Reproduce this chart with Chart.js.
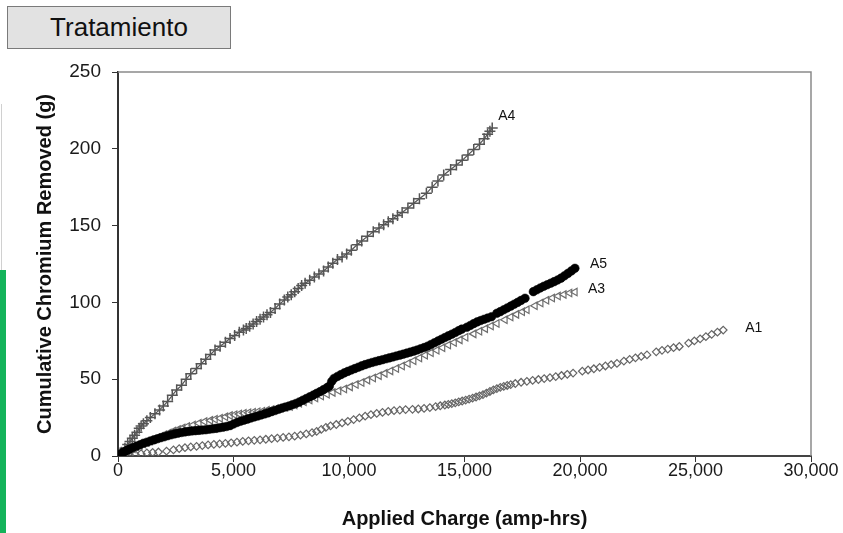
<!DOCTYPE html>
<html>
<head>
<meta charset="utf-8">
<script src="https://cdn.jsdelivr.net/npm/chart.js@4.4.1/dist/chart.umd.min.js"></script>
<style>
  html, body { margin: 0; padding: 0; background: #ffffff; }
  #wrap { position: relative; width: 843px; height: 533px; overflow: hidden; background: #fff; }
  #chart { position: absolute; left: 0; top: 0; }
  #tag {
    position: absolute; left: 7px; top: 6px; width: 222px; height: 41px;
    background: #e2e2e2; border: 1px solid #7a7a7a;
    font-family: "Liberation Sans", Arial, sans-serif; font-size: 26px; color: #111;
    display: flex; align-items: center; justify-content: center;
  }
  #green { position: absolute; left: 0; top: 270px; width: 6px; height: 263px; background: #14b35a; }
  #gline { position: absolute; left: 1px; top: 104px; width: 1px; height: 166px; background: #d0d0d0; }
</style>
</head>
<body>
<div id="wrap">
  <canvas id="chart" width="843" height="533"></canvas>
  <div id="tag">Tratamiento</div>
  <div id="gline"></div>
  <div id="green"></div>
</div>
<script>
// ---------- DATA ----------
const seriesNames = ['A5', 'A4', 'A3', 'A1'];

const xTickLabels = ['0', '5,000', '10,000', '15,000', '20,000', '25,000', '30,000'];
const yTickLabels = ['0', '50', '100', '150', '200', '250'];

const A4x = [0,150,300,420,520,620,720,820,920,1000,1100,1250,1400,1600,1800,1962,2150,2350,2540,2750,2950,3150,3400,3600,3800,4000,4200,4420,4650,4850,5050,5250,5430,5550,5700,5850,6000,6150,6300,6450,6600,6800,7000,7200,7350,7500,7650,7800,7950,8100,8300,8500,8700,8900,9100,9300,9500,9700,9900,10100,10350,10550,10800,11050,11300,11500,11700,11900,12100,12300,12550,12800,13050,13350,13600,13850,14100,14400,14650,14900,15150,15400,15650,15850,16000,16100,16200];
const A4y = [0,2.5,5,7.5,9.5,11.5,13.5,15.5,18,19.5,21,23,25,27.5,30,32.5,35.5,39.5,43,46,50,53.5,57,60,63,66,69,71.5,74,76.5,78.5,80.5,82,83,84.5,86,87.5,89,90.5,92,93.5,96,99,101.5,103.5,105,107,109,111,112.5,114.5,116.5,118.5,120.5,123,125.5,128,129.5,131.5,134,137.5,140,143,146,148.5,150.5,152.5,154.5,156.5,158.5,161.5,164.5,167.5,171,175,179,183,186.5,189.5,192.5,196,199.5,203,206.5,209.5,211.5,213.5];

const A5x = [0,100,200,300,400,500,650,800,950,1100,1250,1400,1550,1700,1850,2000,2150,2300,2450,2600,2750,2900,3050,3200,3350,3500,3650,3800,3950,4100,4250,4400,4550,4700,4850,5000,5150,5300,5450,5600,5750,5900,6050,6200,6350,6500,6650,6800,6950,7100,7250,7400,7550,7700,7850,8000,8150,8300,8450,8600,8750,8900,9050,9150,9250,9350,9500,9650,9800,9950,10100,10250,10400,10550,10700,10850,11000,11150,11300,11450,11600,11750,11900,12050,12200,12350,12500,12650,12800,12950,13100,13250,13400,13550,13700,13850,14000,14150,14300,14450,14600,14750,14880,15100,15250,15400,15550,15700,15850,16000,16170,16400,16550,16700,16850,17000,17150,17300,17450,17620,17980,18130,18280,18430,18580,18730,18880,19030,19180,19330,19480,19630,19780];
const A5y = [0,1.2,2.2,3,3.8,4.5,5.5,6.4,7.3,8.3,9,9.8,10.5,11.2,11.9,12.5,13.2,13.8,14.4,14.9,15.3,15.7,16,16.3,16.5,16.7,16.9,17.1,17.4,17.7,18,18.4,18.8,19.2,19.8,20.8,21.8,22.6,23.3,24,24.7,25.4,26,26.7,27.4,28.1,28.9,29.6,30.4,31.2,31.9,32.6,33.4,34.2,35.2,36.3,37.4,38.5,39.6,40.8,41.9,43.2,44.5,45.5,48.5,50.5,51.8,53,54.1,55.1,56,56.9,57.8,58.7,59.5,60.2,60.9,61.5,62.1,62.7,63.3,63.9,64.5,65.1,65.7,66.3,67,67.6,68.3,69,69.8,70.6,71.5,72.6,73.7,74.9,76,77.1,78.2,79.3,80.4,81.6,82.6,83.8,85,86.2,87.3,88.2,89,89.8,90.7,92.9,94,95.2,96.4,97.6,98.8,100,101.3,102.7,107,108.2,109.4,110.5,111.5,112.5,113.5,114.6,115.8,117.3,118.9,120.5,122.2];

const A3x = [0,150,300,420,520,650,800,950,1100,1250,1400,1550,1700,1850,2000,2200,2400,2600,2800,3000,3250,3500,3750,4000,4200,4420,4650,4850,5050,5250,5450,5650,5850,6050,6250,6450,6650,6850,7050,7250,7450,7650,7850,8050,8300,8550,8800,9050,9300,9550,9800,10050,10300,10550,10800,11050,11300,11550,11800,12050,12300,12550,12800,13050,13300,13550,13800,14050,14300,14550,14800,15050,15400,15650,15900,16150,16400,16750,17000,17250,17500,17700,18050,18300,18550,18800,19050,19300,19550,19780];
const A3y = [0,0.8,2,3,3.9,4.8,5.8,6.8,7.8,8.8,9.8,10.8,11.8,12.8,13.8,15,16.2,17.3,18.3,19.2,20.2,21.3,22.4,23.2,23.9,24.6,25.5,26.3,26.9,27.4,27.8,28.2,28.5,28.8,29.2,29.7,30.3,30.9,31.4,31.8,32.2,33.2,34.3,35.3,36.5,37.8,39,40.2,41.4,42.5,43.6,45,46.5,47.9,49.4,50.8,52.3,53.8,55.4,57,58.6,60.2,62,63.8,65.6,67.2,68.8,70.5,72.2,73.9,75.6,77.3,79.5,81.2,82.9,84.6,86.3,88.7,90.5,92.2,93.9,95.2,97.8,99.6,101.4,102.9,104.1,105.2,106.1,106.8];

const A1x = [0,250,500,750,1000,1250,1500,1750,2100,2400,2650,2900,3150,3400,3650,3900,4150,4400,4650,4900,5150,5400,5650,5900,6150,6400,6650,6900,7150,7400,7650,7900,8150,8400,8600,8800,9000,9200,9450,9700,9950,10200,10450,10700,10950,11200,11450,11700,11950,12200,12450,12750,13000,13250,13500,13750,13950,14150,14300,14450,14600,14750,14900,15050,15200,15350,15500,15650,15800,15950,16100,16250,16400,16550,16700,16850,17000,17200,17450,17700,17950,18200,18450,18700,18950,19200,19450,19700,20100,20350,20600,20850,21100,21350,21600,21900,22150,22400,22650,22900,23300,23550,23800,24050,24300,24700,24950,25200,25450,25700,25950,26200];
const A1y = [0,0.3,0.6,1,1.5,2,2.3,2.6,3.2,4,4.8,5.4,5.9,6.3,6.8,7.2,7.6,7.9,8.2,8.6,9,9.5,9.9,10.2,10.5,10.9,11.3,11.7,12.1,12.5,12.9,13.6,14.4,15.2,16,17.3,18.6,19.6,20.5,21.5,22.6,23.7,24.8,25.9,26.9,27.7,28.4,29,29.5,29.9,30.2,30.4,30.6,31,31.5,32.1,32.7,33.2,33.6,34.1,34.6,35.2,35.8,36.4,37,37.7,38.4,39.2,40,41,42,43,43.9,44.7,45.3,45.9,46.5,47.2,48,48.6,49.2,49.8,50.4,51,51.7,52.4,53.2,54,55.2,56,56.8,57.7,58.6,59.5,60.3,61.8,62.9,63.9,64.8,65.8,67.8,68.8,69.6,70.5,71.3,73.5,74.9,76.3,77.7,79.2,80.6,82];

// ---------- BUILD ----------
function pts(xs, ys) { return xs.map((x, i) => ({ x: x, y: ys[i] })); }

const FONT = '"Liberation Sans", Arial, Helvetica, sans-serif';

// label offsets (pixels) relative to each series' last point
const labelOffsets = { A5: [15, -4], A4: [6, -12], A3: [13, -3], A1: [22, -2] };

const endLabels = {
  id: 'endLabels',
  afterDatasetsDraw(chart) {
    const ctx = chart.ctx;
    ctx.save();
    ctx.font = '14px ' + FONT;
    ctx.fillStyle = '#111';
    ctx.textAlign = 'left';
    ctx.textBaseline = 'middle';
    chart.data.datasets.forEach((ds, i) => {
      const meta = chart.getDatasetMeta(i);
      const last = meta.data[meta.data.length - 1];
      const off = labelOffsets[ds.label];
      ctx.fillText(ds.label, last.x + off[0], last.y + off[1]);
    });
    ctx.restore();
  }
};

const frame = {
  id: 'frame',
  beforeDatasetsDraw(chart) {
    const a = chart.chartArea, ctx = chart.ctx;
    ctx.save();
    ctx.strokeStyle = '#8a8a8a';
    ctx.lineWidth = 1.5;
    ctx.beginPath();
    ctx.moveTo(a.left, a.top);
    ctx.lineTo(a.right, a.top);
    ctx.lineTo(a.right, a.bottom);
    ctx.stroke();
    ctx.restore();
  }
};

new Chart(document.getElementById('chart'), {
  type: 'scatter',
  data: {
    datasets: [
      { label: seriesNames[0], data: pts(A5x, A5y), pointStyle: 'circle', pointRadius: 4.3,
        backgroundColor: '#000', borderColor: '#000', borderWidth: 0.5, showLine: false },
      { label: seriesNames[1], data: pts(A4x, A4y), pointStyle: 'cross', pointRadius: 5.5,
        borderColor: '#555555', backgroundColor: '#555555', pointBorderWidth: 1.5,
        showLine: true, borderWidth: 1.2 },
      { label: seriesNames[2], data: pts(A3x, A3y), pointStyle: 'triangle', pointRotation: 270, pointRadius: 4.3,
        backgroundColor: 'rgba(255,255,255,0)', borderColor: '#6e6e6e', borderWidth: 1.2, showLine: false },
      { label: seriesNames[3], data: pts(A1x, A1y), pointStyle: 'rectRot', pointRadius: 3.8,
        backgroundColor: 'rgba(255,255,255,0)', borderColor: '#666666', borderWidth: 1.2, showLine: false }
    ]
  },
  options: {
    responsive: false,
    animation: false,
    events: [],
    layout: { padding: { left: 0, top: 72, right: 32, bottom: 0 } },
    plugins: { legend: { display: false }, tooltip: { enabled: false } },
    scales: {
      x: {
        type: 'linear', min: 0, max: 30000,
        afterFit(s) { s.height = 77; },
        ticks: {
          stepSize: 5000, autoSkip: false, maxRotation: 0, padding: -2,
          color: '#1a1a1a', font: { family: FONT, size: 18 },
          callback: (v, i) => xTickLabels[i]
        },
        grid: { drawOnChartArea: false, drawTicks: true, tickLength: 6, color: '#333' },
        border: { display: true, color: '#444', width: 2 },
        title: { display: true, text: 'Applied Charge (amp-hrs)', color: '#111',
          font: { family: FONT, size: 20, weight: 'bold' }, padding: { top: 0, bottom: 2 } }
      },
      y: {
        type: 'linear', min: 0, max: 250,
        afterFit(s) { s.width = 118; },
        ticks: {
          stepSize: 50, autoSkip: false, padding: 11,
          color: '#1a1a1a', font: { family: FONT, size: 19 },
          callback: (v, i) => yTickLabels[i]
        },
        grid: { drawOnChartArea: false, drawTicks: true, tickLength: 6, color: '#333' },
        border: { display: true, color: '#333', width: 2 },
        title: { display: true, text: 'Cumulative Chromium Removed (g)', color: '#111',
          font: { family: FONT, size: 20, weight: 'bold' }, padding: { top: 33, bottom: 0 } }
      }
    }
  },
  plugins: [frame, endLabels]
});
</script>
</body>
</html>
